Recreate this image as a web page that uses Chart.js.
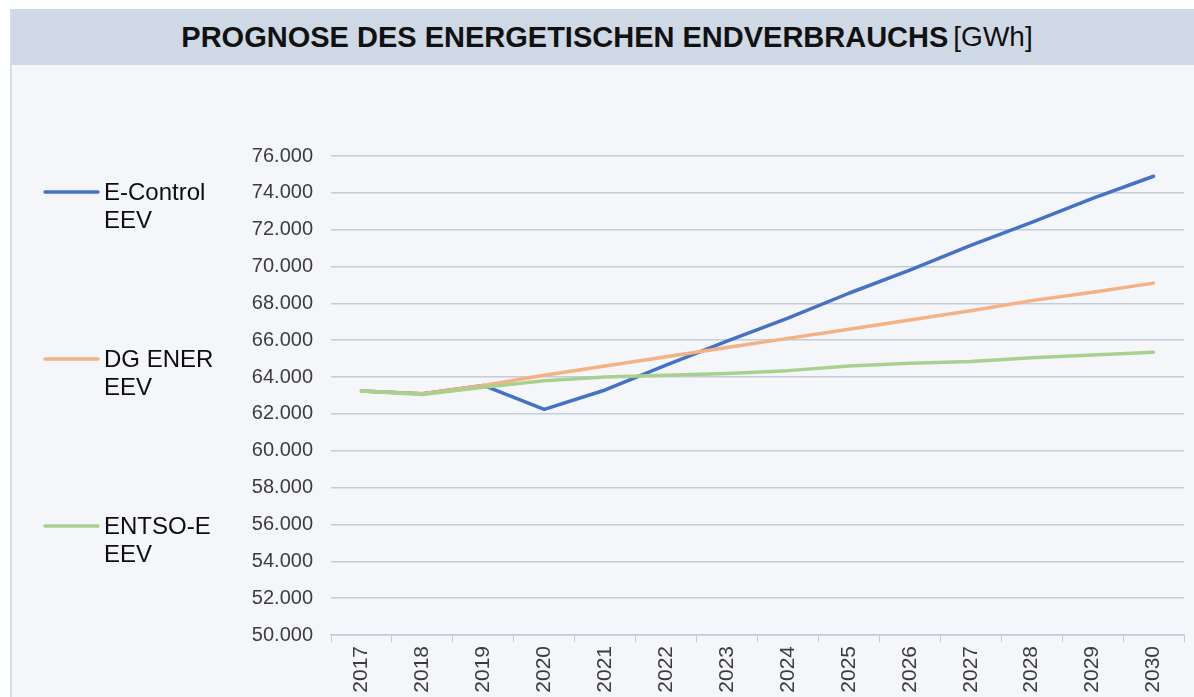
<!DOCTYPE html>
<html lang="de">
<head>
<meta charset="utf-8">
<title>Prognose des energetischen Endverbrauchs</title>
<script src="https://cdn.jsdelivr.net/npm/chart.js@4.4.1/dist/chart.umd.min.js"></script>
<style>
    html, body {
        margin: 0;
        padding: 0;
        background: #ffffff;
        width: 1194px;
        height: 697px;
        overflow: hidden;
        font-family: 'Liberation Sans', Arial, sans-serif;
    }
    .panel {
        position: absolute;
        left: 10px;
        top: 9px;
        right: 0;
        bottom: 0;
        background: #f4f6fa;
        border-left: 2px solid #d3dce8;
    }
    .panel-header {
        position: absolute;
        left: 0;
        top: 0;
        right: 0;
        height: 56px;
        background: #cfd9e5;
        display: flex;
        align-items: center;
        justify-content: center;
        color: #111111;
        font-size: 29px;
        padding-left: 8px;
    }
    .panel-header b {
        font-weight: bold;
    }
    .panel-header span {
        margin-left: 5px;
        font-weight: normal;
        font-size: 28px;
    }
    .chart-wrap {
        position: absolute;
        left: 0;
        top: 65px;
        width: 1194px;
        height: 632px;
    }
</style>
</head>
<body>
<div class="panel">
    <div class="panel-header"><b>PROGNOSE DES ENERGETISCHEN ENDVERBRAUCHS</b><span>[GWh]</span></div>
</div>
<div class="chart-wrap">
    <canvas id="eevChart"></canvas>
</div>

<script>
const years = ['2017', '2018', '2019', '2020', '2021', '2022', '2023', '2024', '2025', '2026', '2027', '2028', '2029', '2030'];

const eControlEev = [63250, 63100, 63550, 62250, 63300, 64650, 65950, 67200, 68550, 69800, 71150, 72400, 73700, 74900];
const dgEnerEev = [63250, 63100, 63550, 64100, 64600, 65100, 65600, 66100, 66600, 67100, 67600, 68150, 68600, 69100];
const entsoeEev = [63250, 63050, 63450, 63800, 64000, 64100, 64200, 64350, 64600, 64750, 64850, 65050, 65200, 65350];

const seriesNames = ['E-Control EEV', 'DG ENER EEV', 'ENTSO-E EEV'];

const yMin = 50000;
const yMax = 76000;
const yStep = 2000;

const FONT = "'Liberation Sans', Arial, sans-serif";

function formatDe(value) {
    return String(value).replace(/\B(?=(\d{3})+(?!\d))/g, '.');
}

// legend on the left, each label wrapped onto two lines
const sideLegend = {
    id: 'sideLegend',
    afterDraw(chart) {
        const ctx = chart.ctx;
        const top = chart.chartArea.top;
        const metas = chart.data.datasets;

        ctx.save();
        metas.forEach((ds, i) => {
            const y = top + 36 + i * 167;
            ctx.strokeStyle = ds.borderColor;
            ctx.lineWidth = 3.5;
            ctx.lineCap = 'round';
            ctx.beginPath();
            ctx.moveTo(45, y);
            ctx.lineTo(98, y);
            ctx.stroke();

            const cut = ds.label.lastIndexOf(' ');
            const lines = [ds.label.slice(0, cut), ds.label.slice(cut + 1)];
            ctx.fillStyle = '#0d0d0d';
            ctx.font = '24px ' + FONT;
            ctx.textBaseline = 'alphabetic';
            ctx.textAlign = 'left';
            lines.forEach((text, j) => {
                ctx.fillText(text, 104, y + 8 + j * 28);
            });
        });
        ctx.restore();
    },
};

new Chart(document.getElementById('eevChart'), {
    type: 'line',
    data: {
        labels: years,
        datasets: [
            {
                label: seriesNames[0],
                data: eControlEev,
                borderColor: '#4472c4',
                order: 2,
            },
            {
                label: seriesNames[1],
                data: dgEnerEev,
                borderColor: '#f4b183',
                order: 1,
            },
            {
                label: seriesNames[2],
                data: entsoeEev,
                borderColor: '#a9d18e',
                order: 0,
            },
        ].map((ds) => Object.assign(ds, {
            borderWidth: 3.5,
            pointRadius: 0,
            pointHoverRadius: 0,
            tension: 0,
            fill: false,
            borderCapStyle: 'round',
            borderJoinStyle: 'round',
        })),
    },
    options: {
        responsive: true,
        maintainAspectRatio: false,
        animation: false,
        layout: {
            padding: { top: 91, right: 10, left: 0, bottom: 0 },
        },
        plugins: {
            legend: { display: false },
            tooltip: { enabled: false },
            title: { display: false },
        },
        scales: {
            x: {
                offset: true,
                afterFit(scale) {
                    scale.height = 62;
                },
                grid: {
                    offset: true,
                    drawOnChartArea: false,
                    drawTicks: true,
                    tickLength: 7,
                    color: '#c3ccd8',
                    lineWidth: 1,
                },
                border: {
                    display: true,
                    color: '#c3ccd8',
                    width: 1.5,
                },
                ticks: {
                    minRotation: 90,
                    maxRotation: 90,
                    autoSkip: false,
                    padding: 4,
                    color: '#3c3c3c',
                    font: { family: FONT, size: 21 },
                },
            },
            y: {
                min: yMin,
                max: yMax,
                afterFit(scale) {
                    scale.width = 331;
                },
                grid: {
                    drawTicks: false,
                    color: '#c3ccd8',
                    lineWidth: 1.5,
                },
                border: { display: false },
                ticks: {
                    stepSize: yStep,
                    padding: 18,
                    color: '#3c3c3c',
                    font: { family: FONT, size: 20 },
                    callback: (value) => formatDe(value),
                },
            },
        },
    },
    plugins: [sideLegend],
});
</script>
</body>
</html>
